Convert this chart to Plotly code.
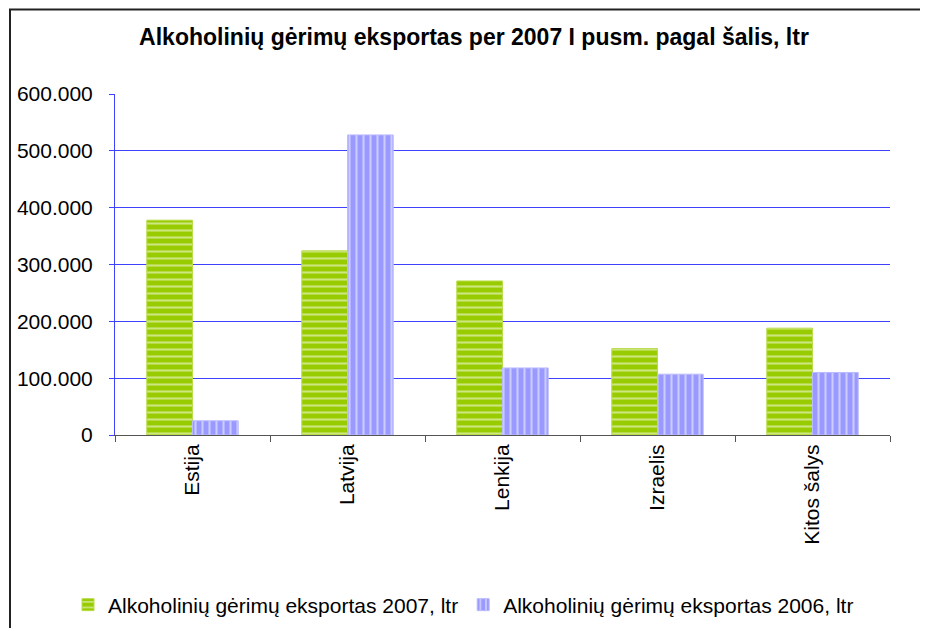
import plotly.graph_objects as go

categories = ["Estija", "Latvija", "Lenkija", "Izraelis", "Kitos šalys"]
values_2007 = [378000, 324000, 271000, 152000, 188000]
values_2006 = [25000, 528000, 118000, 107000, 110000]
series_names = ["Alkoholinių gėrimų eksportas 2007, ltr", "Alkoholinių gėrimų eksportas 2006, ltr"]
y_ticks = [0, 100000, 200000, 300000, 400000, 500000, 600000]

FONT = "Arial, Liberation Sans, sans-serif"
OFF = 8  # browser body margin

fig = go.Figure()
fig.add_trace(go.Bar(
    x=categories, y=values_2007, name=series_names[0],
    marker=dict(color="#99CC00",
                line=dict(color="#B8DC4C", width=1),
                pattern=dict(shape="-", fgcolor="white", fillmode="overlay", size=7, solidity=0.3)),
))
fig.add_trace(go.Bar(
    x=categories, y=values_2006, name=series_names[1],
    marker=dict(color="#9999FF",
                line=dict(color="#BBBBFF", width=1),
                pattern=dict(shape="|", fgcolor="white", fillmode="overlay", size=7, solidity=0.3)),
))

W, H = 928 - OFF, 628 - OFF
PL, PT, PW, PH = 115, 94, 775, 341  # plot area in window pixels
fig.update_layout(
    width=W, height=H,
    margin=dict(l=PL - OFF, r=W - (PL - OFF) - PW, t=PT - OFF, b=H - (PT - OFF) - PH, pad=0, autoexpand=False),
    paper_bgcolor="white", plot_bgcolor="white",
    barmode="group", bargap=0.41, bargroupgap=0,
    separators=",.",
    font=dict(family=FONT, size=21, color="black"),
    title=dict(text="<b>Alkoholinių gėrimų eksportas per 2007 I pusm. pagal šalis, ltr</b>",
               x=(474 - OFF) / W, xanchor="center", y=1 - (37 - OFF) / H, yanchor="middle",
               font=dict(family=FONT, size=23, color="black")),
    showlegend=True,
    legend=dict(orientation="h", x=(68 - PL) / PW, xanchor="left",
                y=(PT + PH - 605) / PH, yanchor="middle",
                font=dict(family=FONT, size=21, color="black"),
                itemwidth=30, bgcolor="rgba(0,0,0,0)"),
    xaxis=dict(showline=True, linecolor="#555555", linewidth=1,
               ticks="outside", tickson="boundaries", ticklen=6, tickcolor="#555555",
               tickangle=-90, tickfont=dict(family=FONT, size=21, color="black"),
               showgrid=False),
    yaxis=dict(range=[0, 600000], tickvals=y_ticks, tickformat=",d",
               showline=True, linecolor="#4040FF", linewidth=1,
               ticks="outside", ticklen=5, tickcolor="#4040FF",
               showgrid=True, gridcolor="#4040FF", gridwidth=1,
               zeroline=False, ticklabelstandoff=12,
               tickfont=dict(family=FONT, size=21, color="black")),
    shapes=[dict(type="rect", xref="paper", yref="paper",
                 x0=(10 - PL) / PW, x1=(945 - PL) / PW,
                 y0=(PT + PH - 650) / PH, y1=(PT + PH - 9.5) / PH,
                 line=dict(color="#222222", width=2), fillcolor="rgba(0,0,0,0)", layer="below")],
)

fig.write_html("out.html")
